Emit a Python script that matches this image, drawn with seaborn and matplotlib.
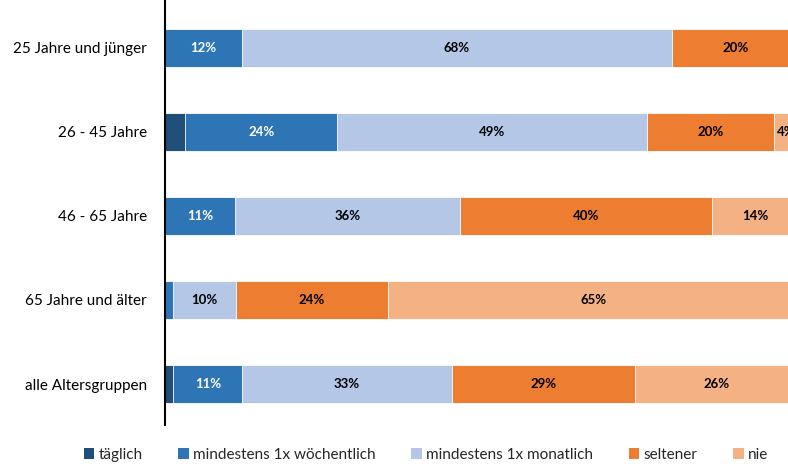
import numpy as np
import pandas as pd
import matplotlib
import matplotlib.pyplot as plt
import seaborn as sns
from matplotlib.patches import Patch

matplotlib.use('Agg')

# --- data ---
groups = ['25 Jahre und jünger', '26 - 45 Jahre', '46 - 65 Jahre',
          '65 Jahre und älter', 'alle Altersgruppen']
series = ['täglich', 'mindestens 1x wöchentlich', 'mindestens 1x monatlich',
          'seltener', 'nie']
taeglich = [0.0, 3.2, 0.0, 0.0, 1.3]
woechentlich = [12.1, 24.0, 11.0, 1.3, 10.9]
monatlich = [67.8, 48.9, 35.6, 9.9, 33.0]
seltener = [20.1, 19.9, 39.6, 24.0, 28.9]
nie = [0.0, 4.0, 13.8, 64.8, 25.9]

colors = ['#1F4E79', '#2E75B6', '#B4C7E7', '#ED7D31', '#F4B183']
label_colors = ['white', 'white', 'black', 'black', 'black']

df = pd.DataFrame(dict(zip(series, [taeglich, woechentlich, monatlich, seltener, nie])),
                  index=groups)
cum = df.cumsum(axis=1)

sns.set_style('white')
plt.rcParams['font.family'] = ['Lato', 'DejaVu Sans']

fig = plt.figure(figsize=(7.88, 4.68), dpi=100)
ax = fig.add_axes([165 / 788, 43 / 468, 634 / 788, 425 / 468])

# draw longest stack first so shorter stacks overlay it
for i in reversed(range(len(series))):
    sns.barplot(x=cum[series[i]].values, y=groups, orient='h', color=colors[i],
                width=0.45, saturation=1, edgecolor='white', linewidth=0.6, ax=ax)

# percentage labels
for i, s in enumerate(series):
    for j, g in enumerate(groups):
        v = df.loc[g, s]
        if v >= 4:
            ax.text(cum.loc[g, s] - v / 2, j, f'{v:.0f}%', ha='center', va='center',
                    fontsize=9.5, fontweight='bold', color=label_colors[i])

ax.set_xlim(0, 100)
ax.set_ylim(4.488, -0.571)
ax.set_xlabel('')
ax.set_ylabel('')
ax.set_xticks([])
ax.tick_params(axis='y', length=0, pad=13, labelsize=11, labelcolor='#000000')
for sp in ['top', 'right', 'bottom']:
    ax.spines[sp].set_visible(False)
ax.spines['left'].set_color('black')
ax.spines['left'].set_linewidth(1.5)

handles = [Patch(facecolor=c, edgecolor='none') for c in colors]
fig.legend(handles, series, loc='center', bbox_to_anchor=(426 / 788, 1 - 455 / 468),
           ncol=5, frameon=False, fontsize=11, handlelength=0.7, handleheight=0.7,
           handletextpad=0.3, columnspacing=2.3)

fig.savefig('out.png', dpi=100)
